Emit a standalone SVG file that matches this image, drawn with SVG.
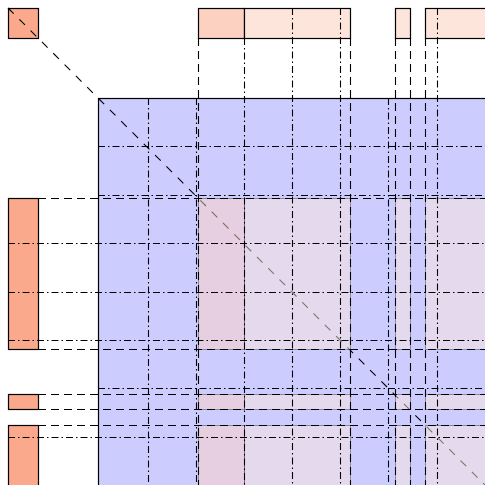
<svg xmlns="http://www.w3.org/2000/svg" width="485" height="485" viewBox="0 0 485 485">
<style>
.blk{fill:#faa98d;stroke:#000;stroke-width:1.2}
.top1{fill:#fdd1c1;stroke:#000;stroke-width:1.2}
.top2{fill:#fde5db;stroke:#000;stroke-width:1.2}
.ov1{fill:#fdd1c1;fill-opacity:0.5;stroke:#000;stroke-opacity:0.35;stroke-width:1}
.ov2{fill:#fde5db;fill-opacity:0.5;stroke:#000;stroke-opacity:0.35;stroke-width:1}
.dash{stroke:#000;stroke-width:1.1;stroke-dasharray:8 5;fill:none}
.dd{stroke:#000;stroke-width:1.1;stroke-dasharray:7 3 1.5 3;fill:none}
.diag{stroke:#000;stroke-width:1.1;stroke-dasharray:8 8;fill:none}
</style>
<rect width="485" height="485" fill="#fff"/>
<g id="matrix"><rect x="98.5" y="98.5" width="420" height="420" fill="#ccccff" stroke="#000" stroke-width="1.2"/></g>
<g id="corner"><rect class="blk" x="8.5" y="8.5" width="30" height="30"/></g>
<g id="top-blocks">
<rect class="top1" x="198.5" y="8.5" width="46" height="30"/>
<rect class="top2" x="244.5" y="8.5" width="106" height="30"/>
<rect class="top2" x="395.5" y="8.5" width="15" height="30"/>
<rect class="top2" x="425.5" y="8.5" width="80" height="30"/>
</g>
<g id="left-blocks">
<rect class="blk" x="8.5" y="198.5" width="30" height="151"/>
<rect class="blk" x="8.5" y="394.5" width="30" height="15"/>
<rect class="blk" x="8.5" y="425.5" width="30" height="80"/>
</g>
<g id="connectors">
<line class="diag" x1="8" y1="8" x2="485" y2="485"/>
<g id="overlay">
<rect class="ov1" x="198.5" y="198.5" width="46" height="151"/>
<rect class="ov2" x="244.5" y="198.5" width="106" height="151"/>
<rect class="ov2" x="395.5" y="198.5" width="15" height="151"/>
<rect class="ov2" x="425.5" y="198.5" width="80" height="151"/>
<rect class="ov1" x="198.5" y="394.5" width="46" height="15"/>
<rect class="ov2" x="244.5" y="394.5" width="106" height="15"/>
<rect class="ov2" x="395.5" y="394.5" width="15" height="15"/>
<rect class="ov2" x="425.5" y="394.5" width="80" height="15"/>
<rect class="ov1" x="198.5" y="425.5" width="46" height="80"/>
<rect class="ov2" x="244.5" y="425.5" width="106" height="80"/>
<rect class="ov2" x="395.5" y="425.5" width="15" height="80"/>
<rect class="ov2" x="425.5" y="425.5" width="80" height="80"/>
</g>
<line class="dd" x1="148.5" y1="98" x2="148.5" y2="485"/>
<line class="dd" x1="196.5" y1="98" x2="196.5" y2="485"/>
<line class="dd" x1="244.5" y1="38" x2="244.5" y2="485"/>
<line class="dd" x1="292.5" y1="8" x2="292.5" y2="485"/>
<line class="dd" x1="340.5" y1="8" x2="340.5" y2="485"/>
<line class="dd" x1="388.5" y1="98" x2="388.5" y2="485"/>
<line class="dd" x1="437.5" y1="8" x2="437.5" y2="485"/>
<line class="dd" x1="98" y1="146.5" x2="485" y2="146.5"/>
<line class="dd" x1="98" y1="195.5" x2="485" y2="195.5"/>
<line class="dd" x1="8" y1="243.5" x2="485" y2="243.5"/>
<line class="dd" x1="8" y1="292.5" x2="485" y2="292.5"/>
<line class="dd" x1="8" y1="340.5" x2="485" y2="340.5"/>
<line class="dd" x1="98" y1="388.5" x2="485" y2="388.5"/>
<line class="dd" x1="8" y1="437.5" x2="485" y2="437.5"/>
<line class="dash" x1="198.5" y1="38" x2="198.5" y2="485"/>
<line class="dash" x1="350.5" y1="38" x2="350.5" y2="485"/>
<line class="dash" x1="395.5" y1="38" x2="395.5" y2="485"/>
<line class="dash" x1="410.5" y1="38" x2="410.5" y2="485"/>
<line class="dash" x1="425.5" y1="38" x2="425.5" y2="485"/>
<line class="dash" x1="38" y1="198.5" x2="485" y2="198.5"/>
<line class="dash" x1="38" y1="349.5" x2="485" y2="349.5"/>
<line class="dash" x1="38" y1="394.5" x2="485" y2="394.5"/>
<line class="dash" x1="38" y1="409.5" x2="485" y2="409.5"/>
<line class="dash" x1="38" y1="425.5" x2="485" y2="425.5"/>
</g>
</svg>
